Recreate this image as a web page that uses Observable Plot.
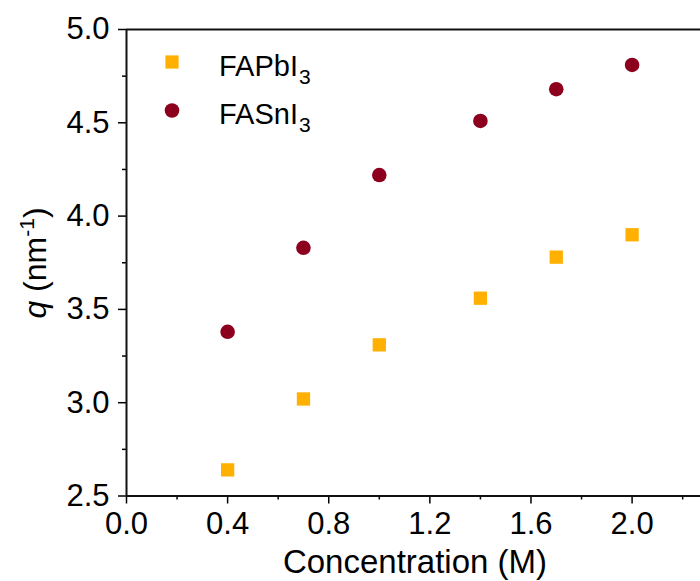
<!DOCTYPE html>
<html><head><meta charset="utf-8">
<script src="https://cdn.jsdelivr.net/npm/d3@7"></script>
<script src="https://cdn.jsdelivr.net/npm/@observablehq/plot@0.6"></script>
<style>body{margin:0;background:#fff}</style>
</head><body><div id="chart"></div>
<script>
const concentration = [0.4, 0.7, 1.0, 1.4, 1.7, 2.0];
const qFAPbI3 = [2.64, 3.02, 3.31, 3.56, 3.78, 3.90];
const qFASnI3 = [3.38, 3.83, 4.22, 4.51, 4.68, 4.81];
const seriesBase = ["FAPbI", "FASnI"];
const seriesSub = ["3", "3"];
const xMajorTicks = [0, 0.4, 0.8, 1.2, 1.6, 2.0];
const xMinorTicks = [0.2, 0.6, 1.0, 1.4, 1.8, 2.2];
const yMajorTicks = [2.5, 3.0, 3.5, 4.0, 4.5, 5.0];
const yMinorTicks = [2.75, 3.25, 3.75, 4.25, 4.75];
const xTitle = "Concentration (M)";

const pb = concentration.map((c, i) => ({c, q: qFAPbI3[i]}));
const sn = concentration.map((c, i) => ({c, q: qFASnI3[i]}));
const colorPb = "#FFB000", colorSn = "#8C001E";
const font = "'Liberation Sans', Arial, Helvetica, sans-serif";

const plot = Plot.plot({
  width: 700, height: 581,
  marginLeft: 126, marginRight: 0, marginTop: 29, marginBottom: 85.5,
  style: {fontFamily: font, fontSize: "31px", color: "#000", background: "#fff", overflow: "visible"},
  x: {domain: [0, 2.2706]},
  y: {domain: [2.5, 5.0]},
  marks: [
    Plot.axisX(xMajorTicks, {tickSize: 8, tickPadding: 8, tickFormat: d3.format(".1f"), label: null, strokeWidth: 1.5, fontSize: 31}),
    Plot.axisX(xMinorTicks, {tickSize: 4, text: null, label: null, strokeWidth: 1.5}),
    Plot.axisY(yMajorTicks, {tickSize: 8, tickPadding: 9, tickFormat: d3.format(".1f"), label: null, strokeWidth: 1.5, fontSize: 31}),
    Plot.axisY(yMinorTicks, {tickSize: 4, text: null, label: null, strokeWidth: 1.5}),
    Plot.ruleX([0], {stroke: "#111", strokeWidth: 2}),
    Plot.ruleY([2.5, 5.0], {stroke: "#111", strokeWidth: 2}),
    Plot.dot(pb, {x: "c", y: "q", symbol: "square", r: 7.5, fill: colorPb}),
    Plot.dot(sn, {x: "c", y: "q", symbol: "circle", r: 7.3, fill: colorSn})
  ]
});
document.getElementById("chart").appendChild(plot);

const svg = d3.select(plot);
// x axis title
svg.append("text")
  .attr("x", 415).attr("y", 573)
  .attr("text-anchor", "middle")
  .attr("font-family", font).attr("font-size", 33).attr("fill", "#000")
  .text(xTitle);
// y axis title
const yt = svg.append("text")
  .attr("transform", "translate(46,263) rotate(-90)")
  .attr("text-anchor", "middle")
  .attr("font-family", font).attr("font-size", 32).attr("fill", "#000");
yt.append("tspan").attr("font-style", "italic").text("q");
yt.append("tspan").text(" (nm");
yt.append("tspan").attr("font-size", 21).attr("dy", -12).text("-1");
yt.append("tspan").attr("dy", 12).text(")");

// legend
const legendColors = [colorPb, colorSn];
const legendSymbols = ["square", "circle"];
seriesBase.forEach((name, i) => {
  const cy = 62 + i * 48.5;
  if (legendSymbols[i] === "square") {
    svg.append("rect").attr("x", 172 - 6.6).attr("y", cy - 6.6).attr("width", 13.2).attr("height", 13.2).attr("fill", legendColors[i]);
  } else {
    svg.append("circle").attr("cx", 172).attr("cy", cy).attr("r", 7.3).attr("fill", legendColors[i]);
  }
  const t = svg.append("text")
    .attr("x", 219).attr("y", cy + 13.5)
    .attr("text-anchor", "start")
    .attr("font-family", font).attr("font-size", 29).attr("fill", "#000");
  t.append("tspan").text(name);
  t.append("tspan").attr("font-size", 21).attr("dx", 1).attr("dy", 8).text(seriesSub[i]);
});
</script>
</body></html>
